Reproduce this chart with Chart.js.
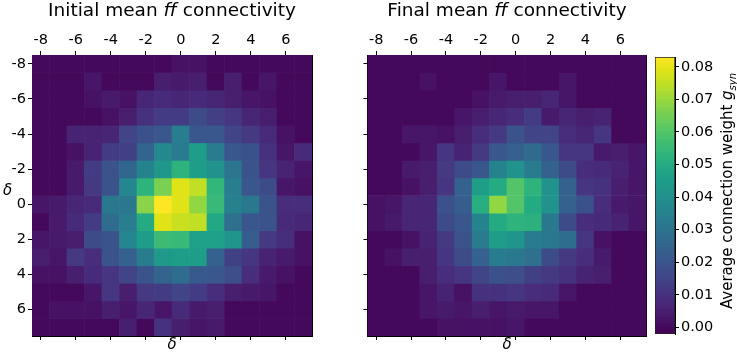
<!DOCTYPE html>
<html>
<head>
<meta charset="utf-8">
<script src="https://cdn.jsdelivr.net/npm/chart.js@4.4.1/dist/chart.umd.min.js"></script>
<style>
  html, body { margin: 0; padding: 0; background: #fff; }
  body { width: 737px; height: 354px; position: relative; overflow: hidden; font-family: 'DejaVu Sans', sans-serif; color: #000; }
  canvas { position: absolute; top: 0; }
  .title { position: absolute; top: 0; font-size: 18.5px; line-height: 20px; text-align: center; white-space: nowrap; }
  .ylab { position: absolute; left: 3px; top: 182px; font-size: 15px; line-height: 16px; font-style: italic; }
  .cblab { position: absolute; left: 587px; top: 181px; width: 280px; height: 20px; line-height: 20px; font-size: 15px; text-align: center; white-space: nowrap; transform: rotate(-90deg); }
  .cblab sub { font-size: 10px; }
</style>
</head>
<body>
<canvas id="chart-initial" width="320" height="354" style="left:0"></canvas>
<canvas id="chart-final" width="320" height="354" style="left:340px"></canvas>
<canvas id="chart-cbar" width="68" height="354" style="left:650px"></canvas>
<div class="title" style="left:32px;width:280px">Initial mean <i>ff</i> connectivity</div>
<div class="title" style="left:367.5px;width:279px">Final mean <i>ff</i> connectivity</div>
<div class="ylab">δ</div>
<div class="cblab">Average connection weight <i>g</i><sub><i>syn</i></sub></div>

<script>
// offsets delta (rows = presynaptic offset, columns = postsynaptic offset)
const DELTA = [-8, -7, -6, -5, -4, -3, -2, -1, 0, 1, 2, 3, 4, 5, 6, 7];
const AXIS_TICKS = [-8, -6, -4, -2, 0, 2, 4, 6];
const CBAR_TICKS = [0, 0.01, 0.02, 0.03, 0.04, 0.05, 0.06, 0.07, 0.08];
const V_MIN = -0.002;
const V_MAX = 0.083;

// mean ff weight before learning
const initialW = [
  [0,0,0,0,0,0,0,0,0.002,0.002,0,0,0,0,0,0],
  [0,0,0,0.003,0,0,0,0.005,0.004,0.005,0,0.005,0,0.003,0,0],
  [0,0,0,0.002,0.004,0.002,0.007,0.008,0.007,0.008,0.007,0.005,0.003,0.002,0,0],
  [0,0,0,0,0.002,0.005,0.010,0.013,0.013,0.017,0.014,0.011,0.007,0.005,0,0],
  [0,0,0.006,0.006,0.007,0.015,0.019,0.021,0.034,0.021,0.021,0.015,0.012,0.008,0.002,0],
  [0,0,0.002,0.006,0.013,0.014,0.025,0.038,0.033,0.045,0.033,0.021,0.019,0.010,0.003,0.008],
  [0,0,0.004,0.013,0.020,0.026,0.036,0.043,0.053,0.045,0.041,0.031,0.020,0.011,0.006,0.003],
  [0,0,0.004,0.012,0.020,0.037,0.053,0.066,0.079,0.075,0.054,0.034,0.021,0.017,0.003,0.002],
  [0.003,0.004,0.007,0.008,0.032,0.032,0.068,0.083,0.079,0.069,0.055,0.035,0.032,0.020,0.009,0.009],
  [0,0.004,0.008,0.013,0.028,0.034,0.050,0.079,0.076,0.075,0.049,0.029,0.021,0.020,0.008,0.007],
  [0.003,0.004,0.005,0.017,0.020,0.037,0.045,0.056,0.055,0.046,0.046,0.042,0.023,0.012,0.009,0.002],
  [0.005,0.003,0.012,0.009,0.020,0.024,0.033,0.044,0.045,0.045,0.024,0.014,0.011,0.006,0.004,0.002],
  [0.002,0.002,0.005,0.008,0.011,0.015,0.020,0.025,0.028,0.022,0.021,0.018,0.009,0.004,0.002,0],
  [0,0,0,0.003,0.011,0.005,0.012,0.013,0.015,0.013,0.009,0.005,0.004,0.003,0,0],
  [0,0.002,0.002,0.002,0.005,0.003,0.007,0.003,0.008,0.004,0.005,0,0,0,0,0],
  [0,0,0,0,0,0.005,0,0.010,0.005,0.003,0.004,0,0,0,0,0]
];

// mean ff weight after learning
const finalW = [
  [0,0,0,0,0,0,0,0,0,0,0,0,0,0,0,0],
  [0,0,0,0.002,0,0,0,0.003,0,0,0,0.003,0,0,0,0],
  [0,0,0,0,0,0,0.002,0.004,0.005,0.005,0.007,0.003,0,0,0,0],
  [0,0,0,0,0,0.003,0.005,0.007,0.009,0.013,0.004,0.007,0.005,0.006,0,0],
  [0,0,0.003,0.003,0.002,0.005,0.009,0.012,0.020,0.015,0.015,0.009,0.007,0.011,0,0],
  [0,0,0,0.003,0.011,0.006,0.012,0.021,0.024,0.027,0.021,0.011,0.011,0.004,0.005,0.003],
  [0,0,0.004,0.005,0.012,0.017,0.021,0.036,0.041,0.033,0.024,0.017,0.009,0.008,0.006,0.003],
  [0,0,0.002,0.005,0.011,0.024,0.045,0.050,0.060,0.053,0.041,0.024,0.011,0.010,0.005,0.003],
  [0.002,0.003,0.007,0.007,0.019,0.023,0.051,0.069,0.060,0.050,0.041,0.024,0.019,0.009,0.004,0.003],
  [0.002,0.004,0.007,0.007,0.017,0.021,0.036,0.050,0.053,0.052,0.032,0.017,0.009,0.008,0.006,0.003],
  [0,0,0.002,0.006,0.012,0.020,0.033,0.045,0.042,0.033,0.032,0.028,0.011,0.002,0,0],
  [0,0.002,0.005,0.005,0.011,0.017,0.024,0.033,0.032,0.029,0.017,0.012,0.009,0.004,0,0],
  [0,0,0,0.005,0.009,0.011,0.015,0.019,0.018,0.014,0.012,0.010,0.006,0.005,0,0],
  [0,0,0,0.003,0.006,0.002,0.010,0.010,0.011,0.009,0.008,0.003,0,0,0,0],
  [0,0,0,0.003,0.004,0.003,0.005,0.003,0.004,0.003,0.003,0,0,0,0,0],
  [0,0,0,0,0.002,0.002,0.002,0.002,0.003,0,0,0,0,0,0,0]
];

// viridis stops (0 -> 1)
const VIRIDIS = ['#440154','#471365','#482475','#463480','#414487','#3b528b','#355f8d',
  '#2f6c8e','#2a788e','#25848e','#21918c','#1e9c89','#22a884','#2fb47c','#44bf70',
  '#5ec962','#7ad151','#9bd93c','#bddf26','#dfe318','#fde725'];

Chart.defaults.font.family = "'DejaVu Sans', sans-serif";
Chart.defaults.font.size = 14.5;
Chart.defaults.color = '#000';

function hexToRgb(h) {
  return [1, 3, 5].map(i => parseInt(h.slice(i, i + 2), 16));
}

function viridis(v) {
  let t = (v - V_MIN) / (V_MAX - V_MIN);
  t = Math.min(1, Math.max(0, t));
  const p = t * (VIRIDIS.length - 1);
  const i = Math.min(Math.floor(p), VIRIDIS.length - 2);
  const f = p - i;
  const a = hexToRgb(VIRIDIS[i]), b = hexToRgb(VIRIDIS[i + 1]);
  const c = a.map((x, k) => Math.round(x + (b[k] - x) * f));
  return `rgb(${c[0]},${c[1]},${c[2]})`;
}

const tickGrid = { drawOnChartArea: false, tickLength: 4, tickColor: '#000', tickWidth: 1 };
const frame = { display: true, color: '#000', width: 1 };

function renderHeatmap(id, matrix, showYLabels, leftWidth, rightWidth) {
  const datasets = matrix.map((row, r) => ({
    data: row.map(() => [DELTA[r] - 0.5, DELTA[r] + 0.5]),
    backgroundColor: row.map(v => viridis(v)),
    borderWidth: 0,
    barPercentage: 1,
    categoryPercentage: 1,
    grouped: false
  }));

  const evenOnly = (val, i) => (DELTA[i] % 2 === 0 ? String(DELTA[i]) : null);
  const evenBlank = (val, i) => (DELTA[i] % 2 === 0 ? '' : null);

  return new Chart(document.getElementById(id), {
    type: 'bar',
    data: { labels: DELTA.map(String), datasets },
    options: {
      responsive: false,
      animation: false,
      events: [],
      layout: { padding: 0 },
      plugins: { legend: { display: false }, tooltip: { enabled: false } },
      scales: {
        x: {
          type: 'category', position: 'top', offset: true,
          grid: { ...tickGrid, offset: false },
          border: frame,
          ticks: { autoSkip: false, maxRotation: 0, padding: 2, callback: evenOnly },
          afterFit: s => { s.height = 55; }
        },
        x2: {
          type: 'category', position: 'bottom', offset: true,
          grid: { ...tickGrid, offset: false },
          border: frame,
          ticks: { autoSkip: false, maxRotation: 0, padding: 0, callback: evenBlank },
          title: { display: true, text: 'δ', font: { size: 15, style: 'italic' }, padding: { top: 0, bottom: 0 } },
          afterFit: s => { s.height = 18; }
        },
        y: {
          type: 'linear', position: 'left', reverse: true, min: -8.5, max: 7.5,
          grid: tickGrid,
          border: frame,
          ticks: { padding: 2, callback: v => (showYLabels ? String(v) : '') },
          afterBuildTicks: s => { s.ticks = AXIS_TICKS.map(v => ({ value: v })); },
          afterFit: s => { s.width = leftWidth; }
        },
        y2: {
          type: 'linear', position: 'right', reverse: true, min: -8.5, max: 7.5,
          grid: { display: false, drawTicks: false },
          border: frame,
          ticks: { display: false },
          afterFit: s => { s.width = rightWidth; }
        }
      }
    }
  });
}

renderHeatmap('chart-initial', initialW, true, 32, 8);
renderHeatmap('chart-final', finalW, false, 27.5, 13.5);

// colour bar
new Chart(document.getElementById('chart-cbar'), {
  type: 'bar',
  data: {
    labels: ['g'],
    datasets: [{
      data: [[V_MIN, V_MAX]],
      backgroundColor: (ctx) => {
        const chart = ctx.chart;
        const y = chart.scales.y;
        if (!chart.chartArea || !y) return VIRIDIS[0];
        const g = chart.ctx.createLinearGradient(0, y.getPixelForValue(V_MIN), 0, y.getPixelForValue(V_MAX));
        VIRIDIS.forEach((c, i) => g.addColorStop(i / (VIRIDIS.length - 1), c));
        return g;
      },
      borderColor: '#222',
      borderWidth: 1,
      borderSkipped: false,
      barPercentage: 1,
      categoryPercentage: 1
    }]
  },
  options: {
    responsive: false,
    animation: false,
    events: [],
    layout: { padding: { left: 5, top: 57, bottom: 20, right: 0 } },
    plugins: { legend: { display: false }, tooltip: { enabled: false } },
    scales: {
      x: { display: false },
      y: {
        position: 'right', min: V_MIN, max: V_MAX,
        grid: tickGrid,
        border: frame,
        ticks: { padding: 2, callback: v => v.toFixed(2) },
        afterBuildTicks: s => { s.ticks = CBAR_TICKS.map(v => ({ value: v })); },
        afterFit: s => { s.width = 43; }
      }
    }
  }
});
</script>
</body>
</html>
